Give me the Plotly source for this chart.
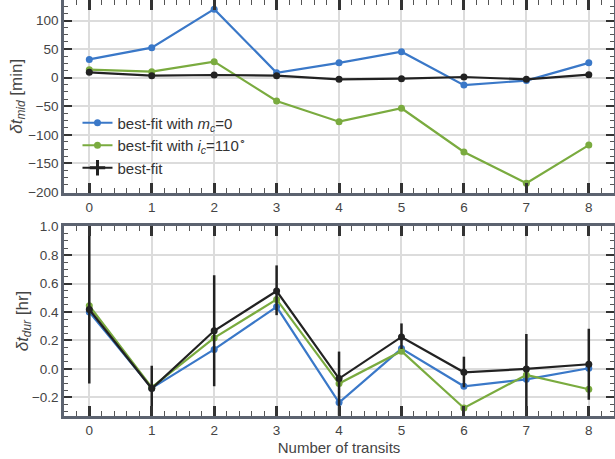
import plotly.graph_objects as go

# Transit index
transits = [0, 1, 2, 3, 4, 5, 6, 7, 8]

# Mid-transit time residuals [min]
mid_mc0 = [32, 52.5, 120, 8.7, 26, 45.5, -13, -5, 26]
mid_ic110 = [14, 10.5, 28, -40.7, -77, -53.5, -130, -184.6, -118]
mid_best = [9.4, 3.5, 4.7, 3.5, -2.9, -1.7, 1.2, -2.9, 5.2]
mid_best_err = [3, 2, 2, 2, 2, 2, 2, 2, 2]

# Transit duration residuals [hr]
dur_mc0 = [0.40, -0.135, 0.137, 0.437, -0.237, 0.143, -0.122, -0.073, 0.005]
dur_ic110 = [0.444, -0.13, 0.218, 0.489, -0.103, 0.125, -0.275, -0.042, -0.143]
dur_best = [0.418, -0.138, 0.268, 0.548, -0.068, 0.225, -0.024, 0.0, 0.033]
dur_best_err_up = [0.60, 0.16, 0.39, 0.18, 0.19, 0.095, 0.11, 0.245, 0.25]
dur_best_err_dn = [0.52, 0.20, 0.39, 0.17, 0.26, 0.085, 0.105, 0.30, 0.25]

BLUE = "#3a78c8"
GREEN = "#7aab3f"
BLACK = "#222222"
FRAME = "#5c6370"
GRID = "#dcdcdc"
FONT = "Liberation Sans"

fig = go.Figure()

def add_series(x, y, color, name, xa, ya, show, err=None):
    fig.add_trace(go.Scatter(
        x=x, y=y, mode="lines+markers", name=name,
        line=dict(color=color, width=2.2),
        marker=dict(color=color, size=7),
        error_y=err, xaxis=xa, yaxis=ya, showlegend=show,
    ))

# top panel: mid-transit times
add_series(transits, mid_mc0, BLUE, "best-fit with <i>m</i><sub><i>c</i></sub>=0", "x", "y", True)
add_series(transits, mid_ic110, GREEN, "best-fit with <i>i</i><sub><i>c</i></sub>=110<sup>∘</sup>", "x", "y", True)
add_series(transits, mid_best, BLACK, "best-fit", "x", "y", False,
           err=dict(type="data", array=mid_best_err, color=BLACK, thickness=2.5, width=0))
# legend glyph for the best-fit series (line + error bar)
fig.add_trace(go.Scatter(
    x=[None], y=[None], mode="lines+markers", name="best-fit",
    line=dict(color=BLACK, width=2.2),
    marker=dict(color=BLACK, size=11, symbol="cross-thin-open", line=dict(color=BLACK, width=3)),
    xaxis="x", yaxis="y", showlegend=True,
))

# bottom panel: transit durations
add_series(transits, dur_mc0, BLUE, "mc0", "x2", "y2", False)
add_series(transits, dur_ic110, GREEN, "ic110", "x2", "y2", False)
add_series(transits, dur_best, BLACK, "best", "x2", "y2", False,
           err=dict(type="data", symmetric=False, array=dur_best_err_up,
                    arrayminus=dur_best_err_dn, color=BLACK, thickness=2.5, width=0))

tickfont = dict(family=FONT, size=13.5, color="#444444")
titlefont = dict(family=FONT, size=15, color="#444444")

def xaxis_cfg(anchor, title=None):
    d = dict(
        domain=[0.1046, 0.998], range=[-0.4, 8.4], anchor=anchor, automargin=False,
        tickmode="linear", tick0=0, dtick=1,
        ticks="inside", ticklen=10, tickwidth=2.5, tickcolor="#333333",
        showline=True, linewidth=3, linecolor=FRAME, mirror="allticks",
        showgrid=True, gridcolor=GRID, gridwidth=1.5, zeroline=False,
        tickfont=tickfont,
        minor=dict(ticks="inside", ticklen=5, tickwidth=1.2, tickcolor="#555555", dtick=0.2, showgrid=False),
    )
    if title:
        d["title"] = dict(text=title, font=titlefont, standoff=6)
    return d

def yaxis_cfg(anchor, domain, rng, dtick, minor_dtick, title, fmt=None):
    d = dict(
        domain=domain, range=rng, anchor=anchor, automargin=False,
        tickmode="linear", tick0=0, dtick=dtick,
        ticks="inside", ticklen=8, tickwidth=2.2, tickcolor="#333333",
        showline=True, linewidth=3, linecolor=FRAME, mirror="allticks",
        showgrid=True, gridcolor=GRID, gridwidth=1.5, zeroline=False,
        tickfont=tickfont,
        minor=dict(ticks="inside", ticklen=4, tickwidth=1.2, tickcolor="#555555", dtick=minor_dtick, showgrid=False),
        title=dict(text=title, font=dict(family=FONT, size=17, color="#444444"), standoff=0),
    )
    if fmt:
        d["tickformat"] = fmt
    return d

fig.update_layout(
    width=615, height=459,
    margin=dict(l=0, r=0, t=0, b=0, autoexpand=False),
    paper_bgcolor="white", plot_bgcolor="white",
    xaxis=xaxis_cfg("y"),
    yaxis=yaxis_cfg("x", [0.5806, 1.0], [-201, 136], 50, 12.5,
                    "<i>δt</i><sub><i>mid</i></sub> [min]"),
    xaxis2=xaxis_cfg("y2", "Number of transits"),
    yaxis2=yaxis_cfg("x2", [0.0937, 0.5076], [-0.331, 1.005], 0.2, 0.05,
                     "<i>δt</i><sub><i>dur</i></sub> [hr]", fmt=".1f"),
    legend=dict(x=0.126, y=0.768, xanchor="left", yanchor="top",
                bgcolor="rgba(0,0,0,0)", font=dict(family=FONT, size=15, color="#333333"),
                tracegroupgap=0),
    font=dict(family=FONT),
)

fig.write_html("out.html")
